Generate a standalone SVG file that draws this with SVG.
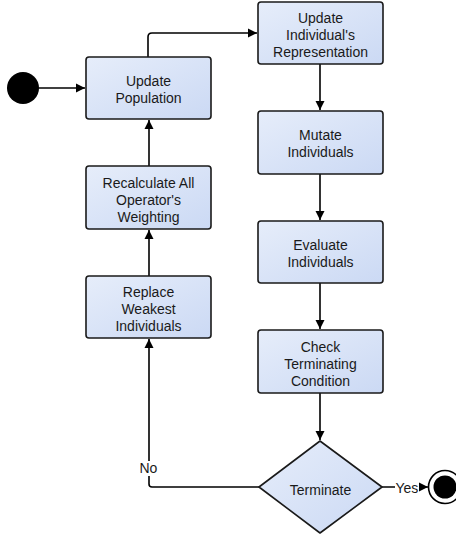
<svg xmlns="http://www.w3.org/2000/svg" width="456" height="537" viewBox="0 0 456 537">
<style>
.box{fill:url(#g);stroke:#1a1a1a;stroke-width:1.6}
.t{font-family:"Liberation Sans",Arial,sans-serif;font-size:14px;fill:#1a1a1a;text-anchor:middle}
.c{fill:none;stroke:#000;stroke-width:1.6}
.lbl{font-family:"Liberation Sans",Arial,sans-serif;font-size:14px;fill:#1a1a1a}
</style>
<defs>
<linearGradient id="g" x1="0" y1="0" x2="1" y2="1">
<stop offset="0" stop-color="#e6edfa"/>
<stop offset="1" stop-color="#cbd9f4"/>
</linearGradient>
<marker id="a" markerWidth="10" markerHeight="10" refX="9" refY="5" orient="auto" markerUnits="userSpaceOnUse">
<path d="M0,0.5 L9,5 L0,9.5 Z" fill="#000"/>
</marker>
</defs>
<rect width="456" height="537" fill="#fff"/>
<g id="connectors">
<path class="c" d="M39,88 H85" marker-end="url(#a)"/>
<path class="c" d="M148,57 V37 Q148,33 152,33 H257" marker-end="url(#a)"/>
<path class="c" d="M320,64 V110" marker-end="url(#a)"/>
<path class="c" d="M320,174 V220" marker-end="url(#a)"/>
<path class="c" d="M320,283 V329" marker-end="url(#a)"/>
<path class="c" d="M320,393 V440" marker-end="url(#a)"/>
<path class="c" d="M259,487 H152 Q149,487 149,484 V339" marker-end="url(#a)"/>
<path class="c" d="M149,276 V230" marker-end="url(#a)"/>
<path class="c" d="M149,166 V120" marker-end="url(#a)"/>
<path class="c" d="M382,487 H428" marker-end="url(#a)"/>
<rect x="139" y="461" width="20" height="15" fill="#fff"/>
<text class="lbl" x="139.5" y="473">No</text>
<rect x="395" y="481" width="24" height="14" fill="#fff"/>
<text class="lbl" x="395.5" y="493">Yes</text>
</g>
<g id="start"><circle cx="23" cy="88" r="16" fill="#000"/></g>
<g id="update-population">
<rect class="box" x="86" y="57" width="125" height="62" rx="3"/>
<text class="t" x="148.5" y="86">Update</text>
<text class="t" x="148.5" y="103">Population</text>
</g>
<g id="update-individual">
<rect class="box" x="258" y="2" width="125" height="62" rx="3"/>
<text class="t" x="320.5" y="23">Update</text>
<text class="t" x="320.5" y="40">Individual's</text>
<text class="t" x="320.5" y="57">Representation</text>
</g>
<g id="mutate">
<rect class="box" x="258" y="111" width="125" height="63" rx="3"/>
<text class="t" x="320.5" y="140">Mutate</text>
<text class="t" x="320.5" y="157">Individuals</text>
</g>
<g id="evaluate">
<rect class="box" x="258" y="221" width="125" height="62" rx="3"/>
<text class="t" x="320.5" y="250">Evaluate</text>
<text class="t" x="320.5" y="267">Individuals</text>
</g>
<g id="check">
<rect class="box" x="258" y="330" width="125" height="63" rx="3"/>
<text class="t" x="320.5" y="352">Check</text>
<text class="t" x="320.5" y="369">Terminating</text>
<text class="t" x="320.5" y="386">Condition</text>
</g>
<g id="recalculate">
<rect class="box" x="86" y="166" width="125" height="63" rx="3"/>
<text class="t" x="148.5" y="188">Recalculate All</text>
<text class="t" x="148.5" y="205">Operator's</text>
<text class="t" x="148.5" y="222">Weighting</text>
</g>
<g id="replace">
<rect class="box" x="86" y="276" width="125" height="62" rx="3"/>
<text class="t" x="148.5" y="297">Replace</text>
<text class="t" x="148.5" y="314">Weakest</text>
<text class="t" x="148.5" y="331">Individuals</text>
</g>
<g id="terminate">
<path class="box" d="M320,441 L382,487 L320,533 L259,487 Z" stroke-linejoin="round"/>
<text class="t" x="320.5" y="495">Terminate</text>
</g>
<g id="end">
<circle cx="445" cy="487" r="16.5" fill="#fff" stroke="#000" stroke-width="1.6"/>
<circle cx="445" cy="487" r="11.5" fill="#000"/>
</g>
</svg>
